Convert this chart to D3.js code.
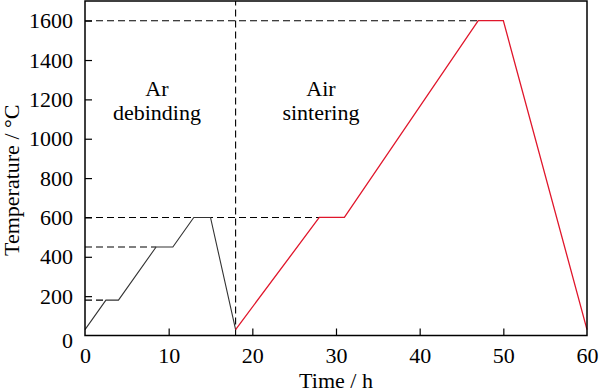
<!DOCTYPE html>
<html><head><meta charset="utf-8">
<script src="https://cdn.jsdelivr.net/npm/d3@7"></script>
<style>body{margin:0;background:#fff}svg{display:block}svg text{font-family:"Liberation Serif","Times New Roman",Times,"DejaVu Serif",serif !important;fill:#000}</style>
</head><body>
<svg id="c" width="600" height="392"></svg>
<script>
const xTicks = [0,10,20,30,40,50,60];
const yTicks = [0,200,400,600,800,1000,1200,1400,1600];
const debindTime = [0, 2.5, 4, 8.5, 10.5, 13, 15, 18];
const debindTemp = [30, 180, 180, 450, 450, 600, 600, 30];
const sinterTime = [18, 28, 31, 47, 50, 60];
const sinterTemp = [30, 600, 600, 1600, 1600, 30];
const hGuideTemp = [180, 450, 600, 1600];
const hGuideEnd = [2.5, 8.5, 28, 47];
const vGuideTime = [18];
const labels = [
  {lines:["Ar","debinding"], t:8.6},
  {lines:["Air","sintering"], t:28.2}
];

const W=600,H=392,m={l:85,r:13,t:1,b:56.5};
const svg=d3.select("#c");
const x=d3.scaleLinear().domain([0,60]).range([m.l,W-m.r]);
const y=d3.scaleLinear().domain([0,1700]).range([H-m.b,m.t]);

hGuideTemp.forEach((v,i)=>{
  svg.append("line").attr("x1",x(0)).attr("x2",x(hGuideEnd[i])).attr("y1",y(v)).attr("y2",y(v))
    .attr("stroke","#000").attr("stroke-width",1.1).attr("stroke-dasharray","7,4");
});
vGuideTime.forEach(v=>{
  svg.append("line").attr("x1",x(v)).attr("x2",x(v)).attr("y1",y(0)).attr("y2",y(1700))
    .attr("stroke","#000").attr("stroke-width",1.1).attr("stroke-dasharray","7,4");
});

const line=d3.line().x(d=>x(d[0])).y(d=>y(d[1]));
svg.append("path").datum(debindTime.map((t,i)=>[t,debindTemp[i]])).attr("d",line)
  .attr("fill","none").attr("stroke","#333").attr("stroke-width",1.1);
svg.append("path").datum(sinterTime.map((t,i)=>[t,sinterTemp[i]])).attr("d",line)
  .attr("fill","none").attr("stroke","#e0162b").attr("stroke-width",1.3);

const fmt=d3.format("d");
const xa=svg.append("g").attr("transform",`translate(0,${y(0)})`)
  .call(d3.axisBottom(x).tickValues(xTicks).tickFormat(fmt).tickSizeInner(-7).tickSizeOuter(0).tickPadding(12));
const ya=svg.append("g").attr("transform",`translate(${x(0)},0)`)
  .call(d3.axisLeft(y).tickValues(yTicks).tickFormat(fmt).tickSizeInner(-7).tickSizeOuter(0).tickPadding(12));
[xa,ya].forEach(a=>{a.attr("font-family",null).attr("font-size",null);
  a.select(".domain").remove();a.selectAll("line").attr("stroke","#000").attr("stroke-width",1.2);
  a.selectAll("text").attr("font-size",22).style("font-size","22px").attr("fill","#000");});
xa.selectAll(".tick").filter(d=>d===0||d===60).select("line").remove();
ya.selectAll(".tick").filter(d=>d===0).select("line").remove();
ya.selectAll(".tick").filter(d=>d===0).select("text").attr("dy","0.55em");

svg.append("rect").attr("x",x(0)).attr("y",y(1700)).attr("width",x(60)-x(0)).attr("height",y(0)-y(1700))
  .attr("fill","none").attr("stroke","#000").attr("stroke-width",1.5);

svg.append("text").attr("x",(x(0)+x(60))/2).attr("y",388).attr("text-anchor","middle")
  .style("font-size","22px").text("Time / h");
svg.append("text").attr("transform",`translate(19,${y(850)+12}) rotate(-90)`).attr("text-anchor","middle")
  .style("font-size","22px").text("Temperature / °C");

labels.forEach(l=>{
  const g=svg.append("text").attr("text-anchor","middle").style("font-size","22px");
  l.lines.forEach((s,i)=>g.append("tspan").attr("x",x(l.t)).attr("y",96+i*24).text(s));
});
</script>
</body></html>
